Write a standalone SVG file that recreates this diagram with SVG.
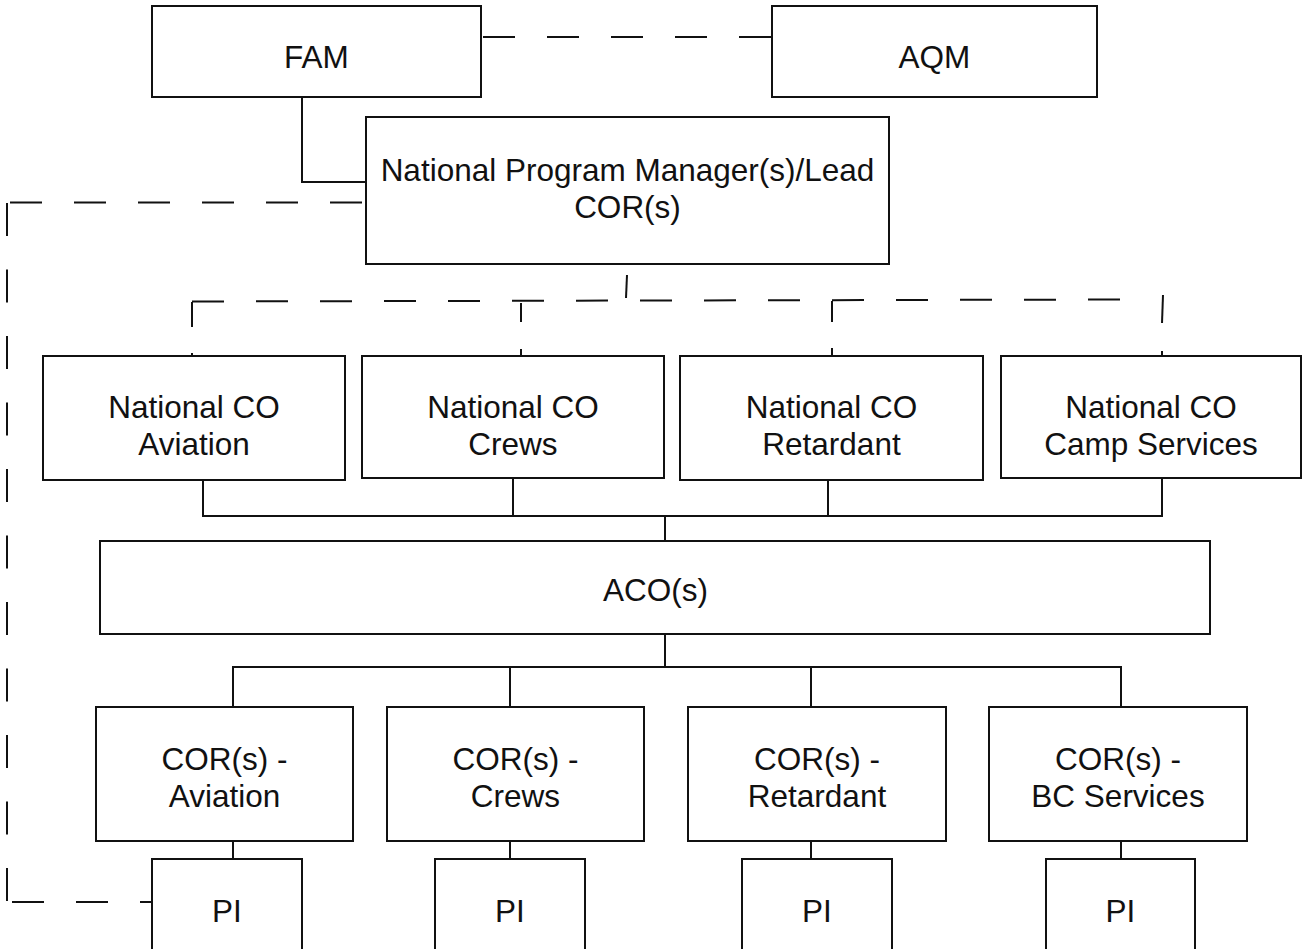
<svg xmlns="http://www.w3.org/2000/svg" width="1302" height="949" viewBox="0 0 1302 949">
  <style>
    .box { fill: #ffffff; stroke: #111111; stroke-width: 2; }
    .lbl { font-family: "Liberation Sans", Arial, sans-serif; font-size: 31.5px; fill: #111111; text-anchor: middle; }
    .solid { fill: none; stroke: #111111; stroke-width: 2; }
    .dash { fill: none; stroke: #111111; stroke-width: 2; stroke-dasharray: 32 32; }
    .dashv { fill: none; stroke: #111111; stroke-width: 2; stroke-dasharray: 33 33.5; }
  </style>
  <rect width="1302" height="949" fill="#ffffff"/>

  <!-- connectors -->
  <g id="connectors">
    <!-- FAM to AQM (dashed) -->
    <path class="dash" d="M 483 37 H 772" stroke-dasharray="31 33"/>
    <!-- FAM to National Program Manager -->
    <path class="solid" d="M 302 97 V 182 H 366"/>
    <!-- National Program Manager to PI (Aviation), dashed loop on the left -->
    <path class="dash" d="M 10 202.5 H 366" stroke-dasharray="32 33"/>
    <path class="dashv" d="M 7 203 V 902"/>
    <path class="dash" d="M 12 902 H 152"/>
    <!-- National Program Manager to National COs (dashed bus) -->
    <path class="solid" d="M 627 275 L 626 298"/>
    <path class="dash" d="M 192 301.5 L 1130 299.5" stroke-dasharray="32.5 31.8"/>
    <path class="solid" d="M 192 302 V 327"/>
    <path class="solid" d="M 192 353 V 356"/>
    <path class="solid" d="M 521 303 V 322"/>
    <path class="solid" d="M 521 349 V 356"/>
    <path class="solid" d="M 832 301 V 322"/>
    <path class="solid" d="M 832 348 V 356"/>
    <path class="solid" d="M 1163 295 L 1162 323"/>
    <path class="solid" d="M 1162 351 V 356"/>
    <!-- National COs to ACO(s) -->
    <path class="solid" d="M 203 480 V 516 H 1162 V 479"/>
    <path class="solid" d="M 513 479 V 516"/>
    <path class="solid" d="M 828 480 V 516"/>
    <path class="solid" d="M 665 516 V 541"/>
    <!-- ACO(s) to COR(s) -->
    <path class="solid" d="M 665 634 V 667"/>
    <path class="solid" d="M 233 707 V 667 H 1121 V 707"/>
    <path class="solid" d="M 510 667 V 707"/>
    <path class="solid" d="M 811 667 V 707"/>
    <!-- COR(s) to PI -->
    <path class="solid" d="M 233 841 V 859"/>
    <path class="solid" d="M 510 841 V 859"/>
    <path class="solid" d="M 811 841 V 859"/>
    <path class="solid" d="M 1121 841 V 859"/>
  </g>

  <!-- top level -->
  <g id="fam">
    <rect class="box" x="152" y="6" width="329" height="91"/>
    <text class="lbl" x="316.5" y="68">FAM</text>
  </g>
  <g id="aqm">
    <rect class="box" x="772" y="6" width="325" height="91"/>
    <text class="lbl" x="934.5" y="68">AQM</text>
  </g>
  <g id="npm">
    <rect class="box" x="366" y="117" width="523" height="147"/>
    <text class="lbl" x="627.5" y="181">National Program Manager(s)/Lead</text>
    <text class="lbl" x="627.5" y="218">COR(s)</text>
  </g>

  <!-- national contracting officers -->
  <g id="co-aviation">
    <rect class="box" x="43" y="356" width="302" height="124"/>
    <text class="lbl" x="194" y="418">National CO</text>
    <text class="lbl" x="194" y="455">Aviation</text>
  </g>
  <g id="co-crews">
    <rect class="box" x="362" y="356" width="302" height="122"/>
    <text class="lbl" x="513" y="418">National CO</text>
    <text class="lbl" x="513" y="455">Crews</text>
  </g>
  <g id="co-retardant">
    <rect class="box" x="680" y="356" width="303" height="124"/>
    <text class="lbl" x="831.5" y="418">National CO</text>
    <text class="lbl" x="831.5" y="455">Retardant</text>
  </g>
  <g id="co-camp">
    <rect class="box" x="1001" y="356" width="300" height="122"/>
    <text class="lbl" x="1151" y="418">National CO</text>
    <text class="lbl" x="1151" y="455">Camp Services</text>
  </g>

  <g id="aco">
    <rect class="box" x="100" y="541" width="1110" height="93"/>
    <text class="lbl" x="655.5" y="601">ACO(s)</text>
  </g>

  <!-- contracting officer representatives -->
  <g id="cor-aviation">
    <rect class="box" x="96" y="707" width="257" height="134"/>
    <text class="lbl" x="224.5" y="770">COR(s) -</text>
    <text class="lbl" x="224.5" y="807">Aviation</text>
  </g>
  <g id="cor-crews">
    <rect class="box" x="387" y="707" width="257" height="134"/>
    <text class="lbl" x="515.5" y="770">COR(s) -</text>
    <text class="lbl" x="515.5" y="807">Crews</text>
  </g>
  <g id="cor-retardant">
    <rect class="box" x="688" y="707" width="258" height="134"/>
    <text class="lbl" x="817" y="770">COR(s) -</text>
    <text class="lbl" x="817" y="807">Retardant</text>
  </g>
  <g id="cor-bc">
    <rect class="box" x="989" y="707" width="258" height="134"/>
    <text class="lbl" x="1118" y="770">COR(s) -</text>
    <text class="lbl" x="1118" y="807">BC Services</text>
  </g>

  <!-- project inspectors -->
  <g id="pi-aviation">
    <rect class="box" x="152" y="859" width="150" height="110"/>
    <text class="lbl" x="227" y="922">PI</text>
  </g>
  <g id="pi-crews">
    <rect class="box" x="435" y="859" width="150" height="110"/>
    <text class="lbl" x="510" y="922">PI</text>
  </g>
  <g id="pi-retardant">
    <rect class="box" x="742" y="859" width="150" height="110"/>
    <text class="lbl" x="817" y="922">PI</text>
  </g>
  <g id="pi-bc">
    <rect class="box" x="1046" y="859" width="149" height="110"/>
    <text class="lbl" x="1120.5" y="922">PI</text>
  </g>
</svg>
